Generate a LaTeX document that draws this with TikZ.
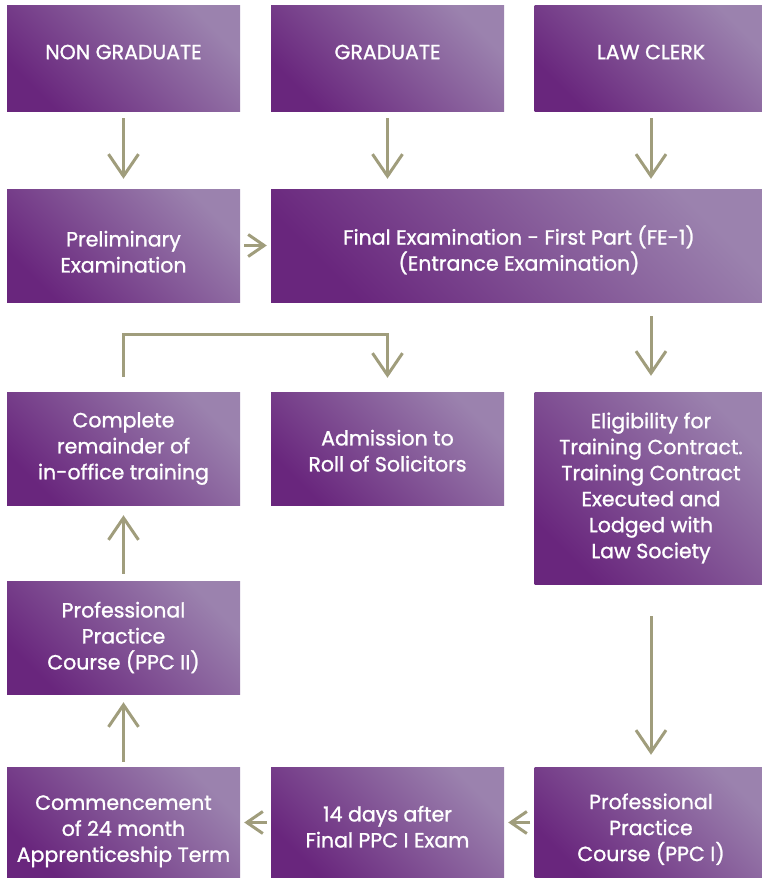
\documentclass[tikz,border=0pt]{standalone}
\usepackage{fontspec}
\setmainfont{Poppins}[UprightFeatures={FakeBold=1.2}]
\usetikzlibrary{arrows.meta}
\definecolor{plumdark}{RGB}{105,38,125}
\definecolor{plumlight}{RGB}{155,130,174}
\definecolor{olivegrey}{RGB}{160,157,124}

\begin{document}
\begin{tikzpicture}[x=1pt,y=-1pt,
    stage/.style={rectangle,inner sep=0pt,minimum width=233pt,minimum height=113pt,
      bottom color=plumdark,top color=plumlight,shading angle=-45,
      text=white,align=center,font=\fontsize{20.5}{26}\selectfont},
    head/.style={stage,minimum height=106pt,text depth=12pt},
    flow/.style={draw=olivegrey,line width=3pt,-{Straight Barb[length=22pt,width=30pt]},
      shorten <=7pt,shorten >=10pt},
    hop/.style={flow,-{Straight Barb[length=16pt,width=22pt]},shorten <=4pt,shorten >=4pt}]
    \useasboundingbox (0,0) rectangle (761,878);
    % entry routes
    \node[head] (ng) at (123.5,58) {NON GRADUATE};
    \node[head] (gr) at (387.5,58) {GRADUATE};
    \node[head] (lc) at (651,58) {LAW CLERK};
    % examinations
    \node[stage,text height=54pt] (pre) at (123.5,245.5) {Preliminary\\Examination};
    \node[stage,text height=54pt,minimum width=496pt] (fe) at (519,245.5) {Final Examination - First Part (FE-1)\\(Entrance Examination)};
    \node[stage] (com) at (123.5,448.5) {Complete\\remainder of\\in-office training};
    \node[stage,text height=46pt] (adm) at (387.5,448.5) {Admission to\\Roll of Solicitors};
    \node[stage,minimum height=192pt] (eli) at (651,488) {Eligibility for\\Training Contract.\\Training Contract\\Executed and\\Lodged with\\Law Society};
    \node[stage] (ppc2) at (123.5,637.5) {Professional\\Practice\\Course (PPC II)};
    % bottom row
    \node[stage,text height=84pt,minimum height=111pt] (cmc) at (123.5,822.5) {Commencement\\of 24 month\\Apprenticeship Term};
    \node[stage,text height=50pt,minimum height=111pt] (days) at (387.5,822.5) {14 days after\\Final PPC I Exam};
    \node[stage,text height=81pt,minimum height=111pt] (ppc1) at (651,822.5) {Professional\\Practice\\Course (PPC I)};

    \draw[flow] (ng) -- (pre);
    \draw[flow] (gr.south) -- (gr.south |- fe.north);
    \draw[flow] (lc.south) -- (lc.south |- fe.north);
    \draw[hop] (pre) -- (fe);
    \draw[flow,shorten <=14pt,shorten >=16pt] (fe.south -| eli.north) -- (eli.north);
    \draw[flow,shorten <=32pt,shorten >=12pt] (eli) -- (ppc1);
    \draw[hop] (ppc1) -- (days);
    \draw[hop] (days) -- (cmc);
    \draw[flow,shorten <=5pt,shorten >=8pt] (cmc) -- (ppc2);
    \draw[flow] (ppc2) -- (com);
    \draw[flow,shorten <=15pt,shorten >=14pt] (com.north) -- ++(0,-57) -| (adm.north);
\end{tikzpicture}
\end{document}
